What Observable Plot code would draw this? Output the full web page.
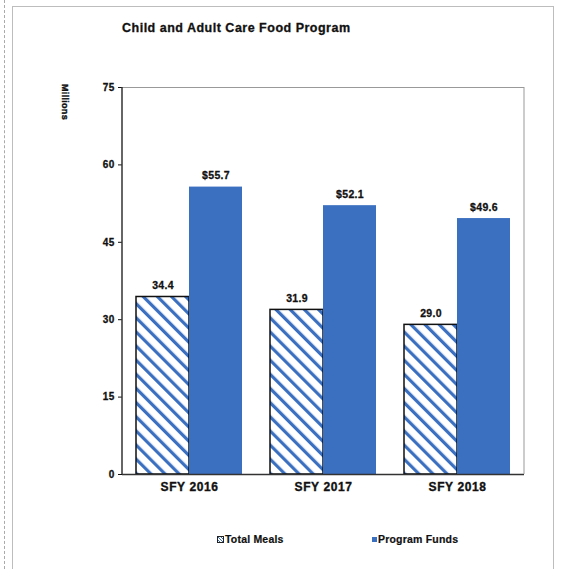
<!DOCTYPE html>
<html>
<head>
<meta charset="utf-8">
<script src="https://cdn.jsdelivr.net/npm/d3@7"></script>
<script src="https://cdn.jsdelivr.net/npm/@observablehq/plot@0.6"></script>
<style>
  body { margin: 0; background: #fff; font-family: "Liberation Sans", Arial, sans-serif; }
  #wrap { position: relative; width: 563px; height: 569px; overflow: hidden; }
  #border { position: absolute; left: 12px; top: 6px; width: 542px; height: 575px; border: 1.5px solid #bdbdbd; box-sizing: border-box; }
  #dash { position: absolute; left: 4px; top: 0; height: 569px; border-left: 1px dashed #aaa; }
  #title { position: absolute; left: 122px; top: 21px; font-weight: bold; font-size: 12.5px; letter-spacing: 0.5px; color: #111; -webkit-text-stroke: 0.3px #111; }
  #chart { position: absolute; left: 0; top: 0; }
  #legend { position: absolute; top: 533px; left: 0; width: 563px; font-size: 10.5px; font-weight: bold; color: #111; letter-spacing: 0.2px; -webkit-text-stroke: 0.2px #111; }
  .li { position: absolute; display: flex; align-items: center; gap: 1px; }
  .sw1 { width: 7px; height: 7px; border: 1px solid #222; box-sizing: border-box; background: repeating-linear-gradient(45deg, #fff 0 1px, #3b6fc0 1px 2px); }
  .sw2 { width: 5px; height: 5px; background: #3b6fc0; }
</style>
</head>
<body>
<div id="wrap">
  <div id="dash"></div>
  <div id="border"></div>
  <div id="title">Child and Adult Care Food Program</div>
  <div id="chart"></div>
  <div id="legend">
    <div class="li" style="left:217px"><span class="sw1"></span><span>Total Meals</span></div>
    <div class="li" style="left:372px"><span class="sw2"></span><span>Program Funds</span></div>
  </div>
</div>
<script>
const years = ["SFY 2016", "SFY 2017", "SFY 2018"];
const series = ["Total Meals", "Program Funds"];
const totalMeals = [34.4, 31.9, 29.0];
const programFunds = [55.7, 52.1, 49.6];
const mealLabels = ["34.4", "31.9", "29.0"];
const fundLabels = ["$55.7", "$52.1", "$49.6"];
const yTicks = [0, 15, 30, 45, 60, 75];

const data = [];
years.forEach((y, i) => {
  data.push({year: y, series: series[0], value: totalMeals[i], label: mealLabels[i]});
  data.push({year: y, series: series[1], value: programFunds[i], label: fundLabels[i]});
});

const blue = "#3b6fc0";

const plot = Plot.plot({
  width: 563,
  height: 520,
  marginLeft: 122,
  marginRight: 39,
  marginTop: 87,
  marginBottom: 46,
  style: {fontFamily: "Liberation Sans, Arial, sans-serif", fontWeight: "bold", color: "#111", background: "transparent"},
  fx: {domain: years, padding: 0, label: null, axis: "bottom", tickSize: 0, tickPadding: 8},
  x: {domain: series, paddingInner: 0, paddingOuter: 0.264, axis: null},
  y: {domain: [0, 75], ticks: yTicks, label: null, tickSize: 4, tickPadding: 4, axis: "left"},
  marks: [
    Plot.ruleY([75], {stroke: "#999", strokeWidth: 1}),
    Plot.barY(data, {
      fx: "year", x: "series", y: "value",
      fill: d => d.series === series[0] ? "url(#hatch)" : blue,
      stroke: d => d.series === series[0] ? "#111" : "none",
      strokeWidth: 1.5
    }),
    Plot.text(data, {
      fx: "year", x: "series", y: "value", text: "label",
      dy: -11, fontSize: 10.5, fontWeight: "bold", fill: "#111"
    }),
    Plot.ruleY([0], {stroke: "#333", strokeWidth: 1.5})
  ]
});

// pattern definition
const ns = "http://www.w3.org/2000/svg";
const defs = document.createElementNS(ns, "defs");
defs.innerHTML = `<pattern id="hatch" patternUnits="userSpaceOnUse" width="10" height="10" patternTransform="rotate(-45)">
  <rect width="10" height="10" fill="#fff"/>
  <rect x="0" y="0" width="3.2" height="10" fill="${blue}"/>
</pattern>`;
plot.insertBefore(defs, plot.firstChild);

// frame: left axis line (dark) and right border (gray)
const yS = plot.scale("y");
const left = 122, right = 563 - 39;
const mkLine = (x1, y1, x2, y2, stroke, w) => {
  const l = document.createElementNS(ns, "line");
  l.setAttribute("x1", x1); l.setAttribute("y1", y1);
  l.setAttribute("x2", x2); l.setAttribute("y2", y2);
  l.setAttribute("stroke", stroke); l.setAttribute("stroke-width", w);
  plot.appendChild(l);
};
mkLine(left, yS.apply(75), left, yS.apply(0), "#333", 1.5);
mkLine(right, yS.apply(75), right, yS.apply(0), "#999", 1);

document.getElementById("chart").appendChild(plot);

// text styling to mimic the heavy scanned font
const heavy = t => { t.setAttribute("stroke", "#111"); t.setAttribute("stroke-width", "0.3"); t.setAttribute("letter-spacing", "0.3"); };
plot.querySelectorAll("[aria-label='y-axis tick label'] text").forEach(t => { t.setAttribute("font-size", "10"); heavy(t); });
plot.querySelectorAll("[aria-label='fx-axis tick label'] text").forEach(t => { t.setAttribute("font-size", "12"); t.setAttribute("letter-spacing", "0.6"); t.setAttribute("stroke", "#111"); t.setAttribute("stroke-width", "0.35"); });
plot.querySelectorAll("[aria-label='text'] text").forEach(heavy);

// y label "Millions" rotated
const lab = document.createElementNS(ns, "text");
lab.textContent = "Millions";
lab.setAttribute("transform", "translate(62,102) rotate(90)");
lab.setAttribute("text-anchor", "middle");
lab.setAttribute("font-size", "9");
lab.setAttribute("font-weight", "bold");
lab.setAttribute("fill", "#111");
lab.setAttribute("stroke", "#111");
lab.setAttribute("stroke-width", "0.4");
lab.setAttribute("letter-spacing", "0.3");
plot.appendChild(lab);
</script>
</body>
</html>
